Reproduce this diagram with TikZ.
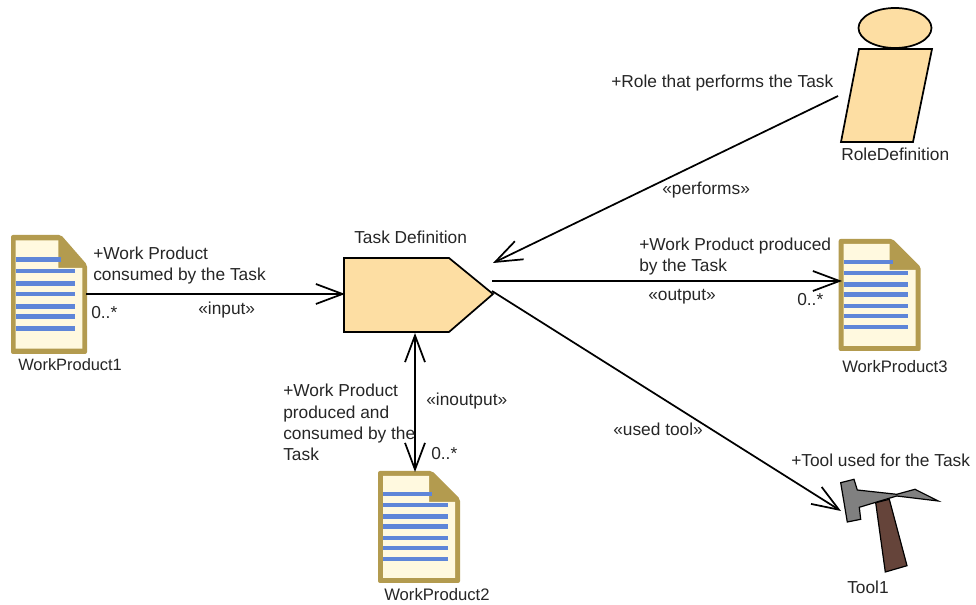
\documentclass[tikz,border=0pt]{standalone}
\usepackage{fontspec}
\setmainfont{Liberation Sans}
\usetikzlibrary{arrows.meta}
\definecolor{peach}{HTML}{FDDEA3}
\definecolor{gold}{HTML}{B39B4F}
\definecolor{cream}{HTML}{FFF9DF}
\definecolor{bluel}{HTML}{5F86D8}
\definecolor{greyt}{HTML}{808080}
\definecolor{brownt}{HTML}{65443A}
\tikzset{
  lbl/.style={font=\fontsize{13pt}{16pt}\selectfont, anchor=base west, inner sep=0pt, align=left, text=black!85},
  wplbl/.style={lbl, font=\fontsize{12.5pt}{16pt}\selectfont},
  conn/.style={draw=black, line width=1.3pt},
  head/.style={-{Straight Barb[length=20pt,width=15pt,line width=1.3pt]}},
  shapeline/.style={draw=black, line width=1.3pt},
  iconbox/.style={inner sep=0pt, minimum width=61.5pt, minimum height=84pt, anchor=north west},
  pics/docicon/.style={code={
    \fill[gold, rounded corners=1.5pt] (0,0) -- (54,0) -- (82,28) -- (82,112) -- (0,112) -- cycle;
    \fill[cream] (5,5) -- (51,5) -- (51,31) -- (77,31) -- (77,107) -- (5,107) -- cycle;
    \foreach \yy/\xe in {23/54,34/69.5,45.5/69.5,55.5/69.5,67/69.5,77/69.5,88/69.5}
      \draw[bluel, line width=3.5pt] (5,\yy) -- (\xe,\yy);
  }}
}
\begin{document}
\begin{tikzpicture}[x=0.75pt,y=-0.75pt]
\useasboundingbox (0,0) rectangle (976,605);
\fill[white] (0,0) rectangle (976,605);
% icons
\pic[xscale=0.927,yscale=1.0625] at (11,235) {docicon};
\pic at (378,471) {docicon};
\pic at (838.7,239) {docicon};
\node[iconbox, minimum width=57pt, minimum height=89pt] (wp1) at (11,235) {};
\node[iconbox] (wp2) at (378,471) {};
\node[iconbox] (wp3) at (838.7,239) {};
% task
\node[inner sep=0pt, minimum width=111pt, minimum height=56pt] (task) at (418.5,295) {};
\draw[shapeline, fill=peach] (344,258) -- (449,258) -- (493,294) -- (449,332) -- (344,332) -- cycle;
% role
\node[inner sep=0pt, minimum width=68pt, minimum height=106pt] (role) at (887,72) {};
\draw[shapeline, fill=peach] (859,49) -- (932,49) -- (913,142) -- (841,142) -- cycle;
\draw[shapeline, fill=peach] (895,28) ellipse [x radius=36.5, y radius=20];
% tool
\node[inner sep=0pt, minimum width=75pt, minimum height=70pt] (tool) at (890,537) {};
\draw[draw=black, line width=0.9pt, fill=brownt] (875.7,502.7) -- (889.3,499.3) -- (907,565.7) -- (885.3,572) -- cycle;
\draw[draw=black, line width=0.9pt, fill=greyt] (840.7,482.7) -- (854,479.3) -- (857.3,490) -- (896.7,494.3) -- (915,489.3) -- (938.3,501) -- (896.7,496) -- (859.3,507.3) -- (860.7,519.3) -- (847.3,522) -- cycle;
% ports
\coordinate (p1a) at (86,294);
\coordinate (p1b) at (345,294);
\coordinate (p2a) at (838,96);
\coordinate (p2b) at (493,263);
\coordinate (p3a) at (492,281);
\coordinate (p3b) at (842,281);
\coordinate (p4a) at (415,333);
\coordinate (p4b) at (415,472);
\coordinate (p5a) at (492,291);
\coordinate (p5b) at (841,511);
\draw[conn, head] (p1a) -- (p1b);
\draw[conn, head] (p2a) -- (p2b);
\draw[conn, head] (p3a) -- (p3b);
\draw[conn, {Straight Barb[length=20pt,width=15pt,line width=1.3pt]}-{Straight Barb[length=20pt,width=15pt,line width=1.3pt]}] (p4a) -- (p4b);
\draw[conn, head] (p5a) -- (p5b);
% labels
\node[lbl] (t1) at (354,244) {Task Definition};
\node[lbl] (t2) at (611,88) {+Role that performs the Task};
\node[lbl] (t3) at (841,161) {RoleDefinition};
\node[lbl] (t4) at (662,195) {«performs»};
\node[lbl] (t5) at (639,272) {+Work Product produced\\by the Task};
\node[lbl] (t6) at (648,301) {«output»};
\node[lbl] (t7) at (797,306) {0..*};
\node[wplbl] (t8) at (842,373) {WorkProduct3};
\node[lbl] (t9) at (93,281) {+Work Product\\consumed by the Task};
\node[lbl] (t10) at (91,319) {0..*};
\node[lbl] (t11) at (198,315) {«input»};
\node[wplbl, font=\fontsize{12.3pt}{16pt}\selectfont] (t12) at (18,371) {WorkProduct1};
\node[lbl] (t13) at (283,461) {+Work Product\\produced and\\consumed by the\\Task};
\node[lbl] (t14) at (426,406) {«inoutput»};
\node[lbl] (t15) at (431,460) {0..*};
\node[wplbl] (t16) at (384,601) {WorkProduct2};
\node[lbl] (t17) at (613,436) {«used tool»};
\node[lbl] (t18) at (791,467) {+Tool used for the Task};
\node[lbl] (t19) at (847,594) {Tool1};
\end{tikzpicture}
\end{document}
